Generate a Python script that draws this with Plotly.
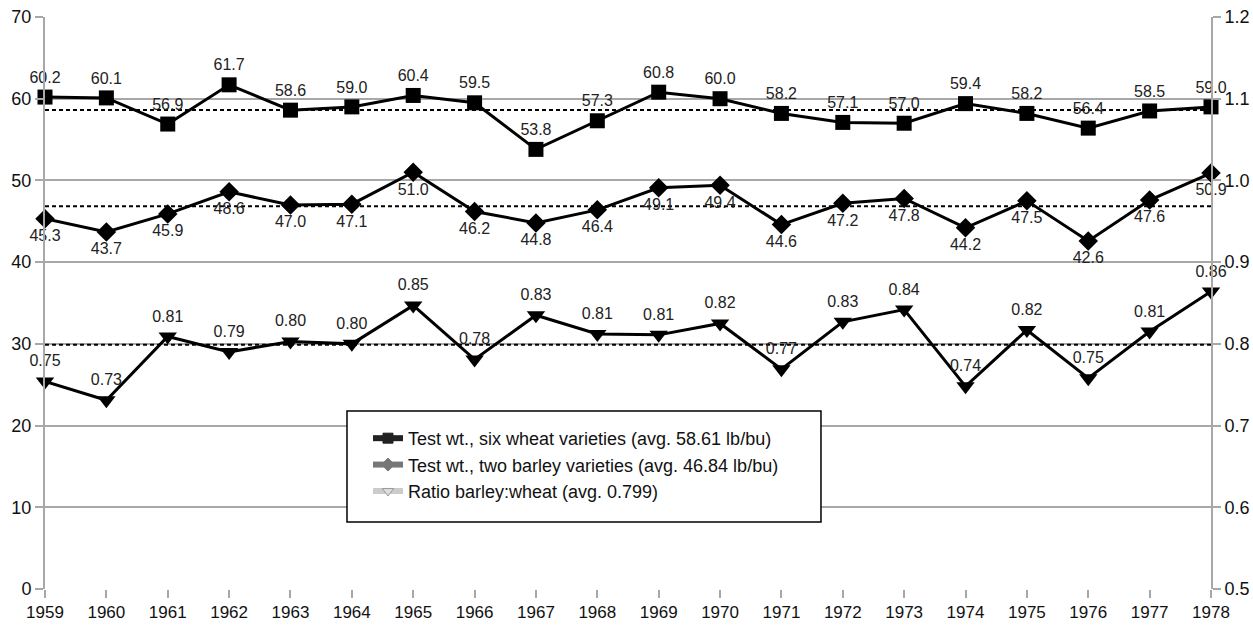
import plotly.graph_objects as go

years = list(range(1959, 1979))
wheat = [60.2, 60.1, 56.9, 61.7, 58.6, 59.0, 60.4, 59.5, 53.8, 57.3,
         60.8, 60.0, 58.2, 57.1, 57.0, 59.4, 58.2, 56.4, 58.5, 59.0]
barley = [45.3, 43.7, 45.9, 48.6, 47.0, 47.1, 51.0, 46.2, 44.8, 46.4,
          49.1, 49.4, 44.6, 47.2, 47.8, 44.2, 47.5, 42.6, 47.6, 50.9]
ratio = [0.754, 0.731, 0.809, 0.790, 0.803, 0.800, 0.847, 0.781, 0.835, 0.812,
         0.811, 0.825, 0.769, 0.827, 0.842, 0.748, 0.817, 0.758, 0.815, 0.864]
ratio_labels = ["0.75", "0.73", "0.81", "0.79", "0.80", "0.80", "0.85", "0.78", "0.83", "0.81",
                "0.81", "0.82", "0.77", "0.83", "0.84", "0.74", "0.82", "0.75", "0.81", "0.86"]
wheat_avg = 58.61
barley_avg = 46.84
ratio_avg = 0.799
legend_names = ["Test wt., six wheat varieties (avg. 58.61 lb/bu)",
                "Test wt., two barley varieties (avg. 46.84 lb/bu)",
                "Ratio barley:wheat (avg. 0.799)"]

FONT = "Liberation Sans, Arial, sans-serif"
GRID = "#a8a8a8"
fig = go.Figure()

# average dashed lines
for avg, ax in [(wheat_avg, "y"), (barley_avg, "y"), (ratio_avg, "y2")]:
    fig.add_trace(go.Scatter(x=[years[0], years[-1]], y=[avg, avg], mode="lines",
                             line=dict(color="black", width=2, dash="4px,3px"),
                             yaxis=ax, showlegend=False, hoverinfo="skip"))

fig.add_trace(go.Scatter(x=years, y=wheat, mode="lines+markers+text",
                         line=dict(color="black", width=3),
                         marker=dict(symbol="square", size=15, color="black"),
                         text=[f"{v:.1f}" for v in wheat], textposition="top center",
                         textfont=dict(size=16, color="#222", family=FONT),
                         showlegend=False, cliponaxis=False))
fig.add_trace(go.Scatter(x=years, y=barley, mode="lines+markers+text",
                         line=dict(color="black", width=3),
                         marker=dict(symbol="diamond", size=15, color="black"),
                         text=[f"{v:.1f}" for v in barley], textposition="bottom center",
                         textfont=dict(size=16, color="#222", family=FONT),
                         showlegend=False, cliponaxis=False))
fig.add_trace(go.Scatter(x=years, y=ratio, mode="lines+markers+text", yaxis="y2",
                         line=dict(color="black", width=3),
                         marker=dict(symbol="triangle-down", size=16, color="black"),
                         text=ratio_labels, textposition="top center",
                         textfont=dict(size=16, color="#222", family=FONT),
                         showlegend=False, cliponaxis=False))

# legend entries
leg_styles = [("#222222", "square", "#222222"),
              ("#777777", "diamond", "#777777"),
              ("#cccccc", "triangle-down", "#dddddd")]
for i, (name, (lc, sym, mc)) in enumerate(zip(legend_names, leg_styles)):
    fig.add_trace(go.Scatter(x=[None], y=[None], mode="lines+markers", name=name,
                             legendgroup=f"g{i}",
                             line=dict(color=lc, width=6),
                             marker=dict(symbol=sym, size=10, color=mc,
                                         line=dict(color="#999" if sym == "triangle-down" else mc, width=1))))

# legend frame (drawn as a shape in paper coords)
fig.add_shape(type="rect", xref="paper", yref="paper",
              x0=0.259, x1=0.6655, y0=0.1171, y1=0.3112,
              line=dict(color="black", width=1.5), fillcolor="white", layer="above")

fig.update_layout(
    width=1253, height=625,
    margin=dict(l=45, r=42, t=17, b=36, autoexpand=False),
    plot_bgcolor="white", paper_bgcolor="white",
    font=dict(family=FONT, size=17, color="#111"),
    xaxis=dict(range=[1959, 1978], tickmode="array", tickvals=years,
               ticktext=[str(y) for y in years], showgrid=False, automargin=False,
               showline=False, zeroline=False, ticks="outside", ticklen=8,
               tickcolor=GRID, tickwidth=2, tickfont=dict(size=17),
               ticklabeloverflow="allow"),
    yaxis=dict(range=[0, 70], dtick=10, showgrid=True, gridcolor=GRID, gridwidth=2,
               zeroline=False, showline=True, linecolor=GRID, linewidth=2, automargin=False,
               ticks="outside", ticklen=8, tickcolor=GRID, tickwidth=2,
               tickfont=dict(size=18), ticklabeloverflow="allow"),
    yaxis2=dict(range=[0.5, 1.2], dtick=0.1, tickformat=".1f", overlaying="y", side="right",
                showgrid=False, zeroline=False, showline=True, linecolor=GRID, automargin=False,
                linewidth=2, ticks="outside", ticklen=8, tickcolor=GRID, tickwidth=2,
                tickfont=dict(size=18), ticklabeloverflow="allow"),
    legend=dict(x=0.277, y=0.2955, xanchor="left", yanchor="top",
                borderwidth=0, bgcolor="rgba(0,0,0,0)",
                font=dict(size=18, family=FONT, color="#111"),
                itemwidth=30, tracegroupgap=0),
)

fig.write_html("out.html", config={"displayModeBar": False},
               post_script="document.body.style.margin='0';document.body.style.overflow='hidden';")
